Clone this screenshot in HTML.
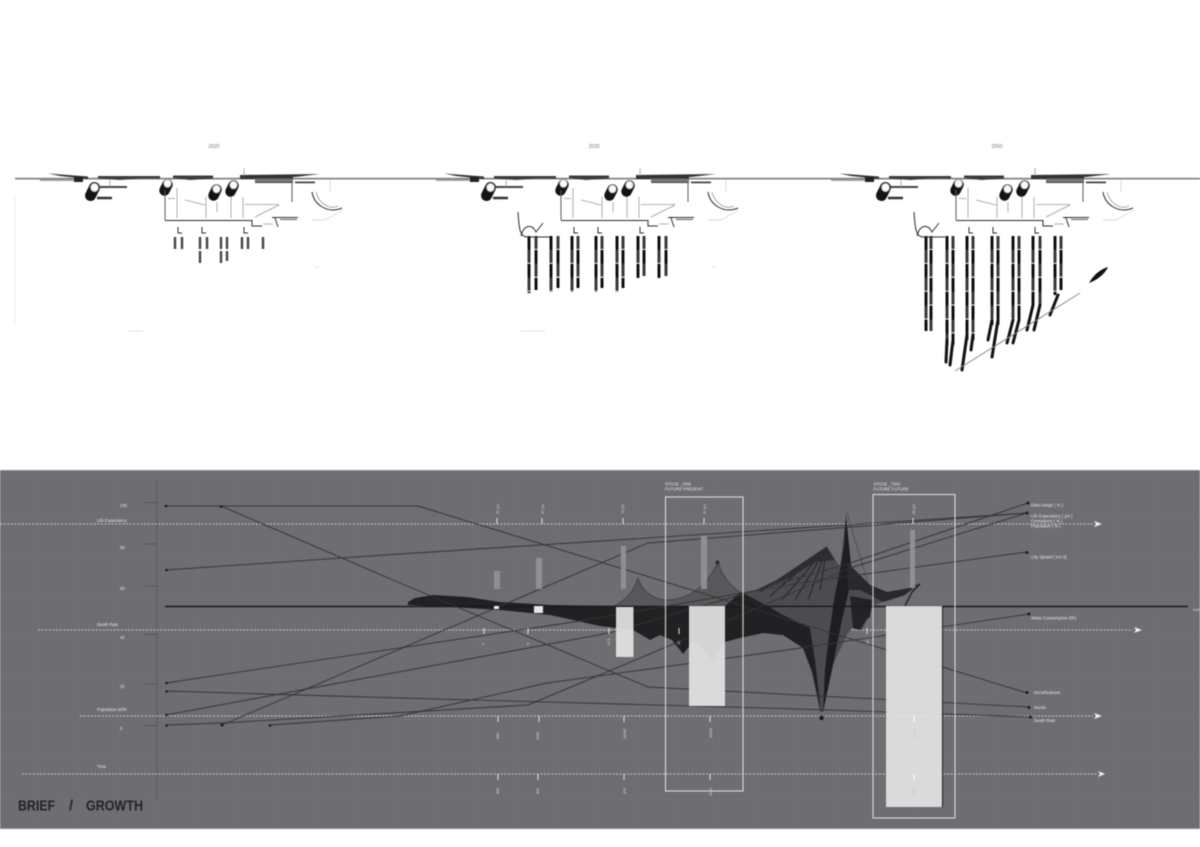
<!DOCTYPE html>
<html><head><meta charset="utf-8"><title>Brief / Growth</title>
<style>
html,body{margin:0;padding:0;background:#fff;overflow:hidden}
svg{display:block;filter:blur(.4px)}
text{font-family:"Liberation Sans",sans-serif}
.l{fill:none;stroke:#343436;stroke-width:.95;stroke-linejoin:round}
.w{fill:#e6e6e6;font-size:4.2px}
.dash{stroke:#c6c6c8;stroke-width:.9;stroke-dasharray:2 1.6;fill:none}
.t{stroke:#e4e4e4;stroke-width:1;fill:none}
.g{fill:#939396}
.b{fill:#e2e2e2;opacity:.93}
.c{stroke:#3a3a3a;stroke-width:3;stroke-dasharray:13 .9;fill:none}
.cl{stroke:#0a0a0a;stroke-width:2.600;stroke-dasharray:14 14;fill:none}
.cr{stroke:#0a0a0a;stroke-width:2.600;stroke-dasharray:14 14;stroke-dashoffset:14;fill:none}
.e{stroke:#111;fill:none;stroke-linecap:round}
.m{stroke:#5c5c5c;fill:none;stroke-width:1}
.k{stroke:#2b2b2b;fill:none;stroke-width:1}
.f{stroke:#999;fill:none;stroke-width:.8}
</style></head><body>
<svg width="1200" height="847" viewBox="0 0 1200 847" xmlns="http://www.w3.org/2000/svg">
<defs>
<pattern id="grid" width="40" height="40" patternUnits="userSpaceOnUse"><path d="M40 0V40H0" fill="none" stroke="#78787c" stroke-width=".4"/></pattern>
<pattern id="mesh" width="2" height="2" patternUnits="userSpaceOnUse"><rect width="2" height="2" fill="#565659"/><path d="M0 1H2" stroke="#3c3c3f" stroke-width=".7"/></pattern>
<g id="mod">
<path d="M48 173.500L88 176.500V179L60 176Z" fill="#333"/>
<rect x="74" y="177" width="9" height="5" fill="#222"/>
<rect x="40" y="179.300" width="34" height="1.600" fill="#999"/>
<path d="M98 176H160V178.500H140L120 180L98 178.500Z" fill="#3c3c3c"/>
<path d="M173 175.500H213V178.500L190 180L173 178Z" fill="#3c3c3c"/>
<path d="M240 175L320 174L295 177H293V183H255V179H240Z" fill="#333"/>
<rect x="255" y="178.600" width="38" height="3.600" fill="#777"/>
<rect x="295" y="181.600" width="20" height="1.600" fill="#333"/>
<path d="M244 168V176" class="f"/>
<path d="M100 187H127" stroke="#444" stroke-width="2" fill="none"/>
<path d="M97 198H112" stroke="#333" stroke-width="2.500" fill="none"/>
<path d="M110 180V187" class="f"/>
<g stroke="#141414" stroke-width="11" stroke-linecap="round" fill="none">
<path d="M90.500 195.500L94.500 187.500"/>
<path d="M164.500 190.500L167.500 184.500" stroke-width="10.500"/>
<path d="M213.500 195.500L216.500 189.500" stroke-width="10.500"/>
<path d="M230.500 191.500L233.500 185.500" stroke-width="10.500"/>
</g>
<g fill="#fafafa" stroke="#aaa" stroke-width=".8">
<ellipse cx="94.500" cy="187.500" rx="4" ry="4.200"/>
<ellipse cx="167.500" cy="183.500" rx="3.800" ry="4"/>
<ellipse cx="216.500" cy="189" rx="3.800" ry="4"/>
<ellipse cx="233.500" cy="185" rx="3.800" ry="4"/>
</g>
<path d="M165 190V220" class="m"/>
<path d="M165 220.500H252V226H262" class="k" stroke-width="1.200"/>
<path d="M177 188V218M206 197V218M231 197V218M243 197V218M217 202V212" class="f" stroke-width="1"/>
<path d="M245 204.500H279M255 217L279 205M185 200L205 205M168 198.500H175M263 224H273" class="f"/>
<path d="M272 217.500H298" class="k"/>
<path d="M280 219.500H297" class="m"/>
<path d="M275 218L278 227" class="k"/>
<path d="M292 182V202" class="m"/>
<path d="M330 180V192M312 220H325L343 210" stroke="#ccc" stroke-width=".7" fill="none"/>
<path d="M312 192C314 205 328 214 342 208" class="k"/>
<path d="M316 192C319 204 330 210 338 206" class="f"/>
<path d="M178 227V233H182M202 227V233H206M244 227V233H248" class="k"/>
</g>
</defs>

<!-- top drawings -->
<rect x="15" y="177.800" width="1185" height="1.700" fill="#808080"/>
<use href="#mod"/>
<use href="#mod" x="396"/>
<use href="#mod" x="791"/>
<text x="214" y="148" font-size="5" fill="#777" text-anchor="middle">2020</text>
<text x="594" y="148" font-size="5" fill="#777" text-anchor="middle">2030</text>
<text x="997" y="148" font-size="5" fill="#777" text-anchor="middle">2050</text>

<path d="M15 197V325" stroke="#eee" fill="none"/>
<path d="M128 331H143M520 331H545M315 267H319M712 267H716" stroke="#ddd" fill="none"/>

<!-- 2020 columns -->
<path d="M175 237V249M182 237V249M200 237V249M207 237V249M221 237V249M227 237V249M242 237V249M248 237V249M263 237V249M200 251V263M221 251V263M227 251V261" stroke="#444" stroke-width="2.400" fill="none"/>

<!-- 2030 columns -->
<path class="c" d="M529 236V293M536 236V290M551 236V292M558 236V288M572 236V292M578 236V288M596 236V292M602 236V288M617 236V292M623 236V288M638 236V278M644 236V276M659 236V278M666 236V276"/>
<path class="cl" d="M529 236V293M551 236V292M572 236V292M596 236V292M617 236V292M638 236V278M659 236V278"/>
<path class="cr" d="M536 236V290M558 236V288M578 236V288M602 236V288M623 236V288M644 236V276M666 236V276"/>
<path d="M518 212C519 225 519 237 527 237H550M521 236C524 224 532 224 536 232L543 223" class="k"/>

<!-- 2050 columns -->
<path class="c" d="M926 236V331M931 236V331M947 236V345M953 236V345M967 236V340M973 236V340M992 236V325M998 236V325M1013 236V320M1019 236V320M1033 236V305M1040 236V305M1055 236V295M1061 236V290"/>
<path class="cl" d="M926 236V331M947 236V345M967 236V340M992 236V325M1013 236V320M1033 236V305M1055 236V295"/>
<path class="cr" d="M931 236V331M953 236V345M973 236V340M998 236V325M1019 236V320M1040 236V305M1061 236V290"/>
<path class="e" stroke-width="3" d="M947 340L946 362M953 340L950 365M967 335L962 370M973 335L971 350M992 320L988 340M998 320L992 357M1013 320L1007 343M1019 320L1013 343M1033 305L1027 330M1040 305L1034 330M1058 295L1050 315"/>
<path d="M914 212C915 225 915 237 923 237H945M917 236C920 224 928 224 932 232L939 223" class="k"/>
<path d="M955 371L1080 293" stroke="#888" stroke-width="1" fill="none"/>
<path d="M1089 283C1094 274 1101 269 1108 267C1105 274 1097 280 1089 283Z" fill="#111"/>

<!-- panel -->
<rect x="0" y="470" width="1200" height="359" fill="#6e6e72"/>
<rect x="0" y="470" width="1200" height="359" fill="url(#grid)"/>
<path d="M0 470.500H1200M0 828.500H1200" stroke="#8a8a8d" fill="none"/>

<!-- axis -->
<path d="M157 480V800" stroke="#3c3c3e" stroke-width=".6" stroke-dasharray="1.500 1" fill="none"/>
<path d="M145 502.500H157M145 544H157M145 586H157M145 634.500H157M145 684H157M145 725.500H157" stroke="#3c3c3e" stroke-width=".7" stroke-dasharray="1.500 .8" fill="none"/>
<g class="w">
<text x="120" y="507">100</text><text x="120" y="549">80</text><text x="120" y="590">60</text><text x="120" y="639">40</text><text x="120" y="688">20</text><text x="120" y="730">0</text>
<text x="97" y="522">Life Expectancy</text>
<text x="97" y="626">Death Rate</text>
<text x="97" y="711">Population M/IR</text>
<text x="97" y="768">Time</text>
</g>

<!-- dashed rows -->
<path class="dash" d="M0 524H1093M38 630H1133M80 716H1093M22 774H1098"/>
<path d="M1094 521L1102 524L1094 527L1096 524Z M1134 627L1142 630L1134 633L1136 630Z M1094 713L1102 716L1094 719L1096 716Z M1098 771L1105 774L1098 777L1100 774Z" fill="#f2f2f2"/>

<!-- tents -->
<path d="M612 607Q632 598 638 578Q645 598 665 600Q700 600 718 562Q725 585 745 595L745 610H612Z" fill="#58585b" stroke="#3a3a3c" stroke-width=".7"/>
<!-- big mesh -->
<path d="M740 595L750 593L783 577L827 547L840 567L846 515L847 562L870 585L887 592L910 588L920 583L905 595L883 602L873 606L868 618L862 630L852 628L847 635L833 665L823 712L820 712L812 672L803 648L783 635L763 633L740 638Z" fill="url(#mesh)"/>
<!-- fan ridges -->
<path d="M827 547L760 592M827 547L770 596M827 547L782 600M827 547L795 600M827 547L808 600M827 547L820 590" stroke="#2c2c2e" stroke-width="1.300" fill="none"/>
<!-- band -->
<path d="M408 602L415 598L433 595L467 597L500 602L550 605L617 606H725L741 592L760 602L783 615L810 628L815 660L821 712L812 672L803 648L783 635L763 633L740 638L725 642L712 660L700 645L693 642L683 654L672 640L660 635L650 640L633 630L600 626L550 615L500 610L450 607L408 605Z" fill="#212123"/>
<!-- ridges & strips -->
<path d="M750 593L783 577L827 547L835 560L815 562L790 578Z" fill="#2e2e30"/>
<path d="M846 515L848 535L851 565L849 590L842 620L833 665L823 712L825 670L829 635L834 600L840 570L844 545Z" fill="#1e1e20"/>
<path d="M847 562L870 585L887 592L910 588L920 583L905 595L883 602L872 596L860 590L848 590Z" fill="#29292b"/>
<path d="M850 596L872 600L870 617L866 620L860 630L853 628Z" fill="#232325"/>
<path d="M912 592L920 584M905 606L912 592" stroke="#1a1a1a" stroke-width="1.300" fill="none"/>
<path d="M847 513L868 583" stroke="#333" stroke-width=".7" stroke-dasharray="2 1" fill="none"/>
<circle cx="821.500" cy="718" r="2.300" fill="#1a1a1a" stroke="#555" stroke-width=".6"/>
<circle cx="717.500" cy="562.500" r="2" fill="#2a2a2c"/>

<!-- main line -->
<path d="M165 606.500H1188" stroke="#1b1b1d" stroke-width="1.500" fill="none"/>
<text x="1193" y="611" font-size="4" fill="#ddd">Indi</text>

<!-- data lines -->
<path class="l" d="M166 506H418L1027 693"/>
<path class="l" d="M221 506L400 583L648 687L800 695L1029 707"/>
<path class="l" d="M166 570L400 554L617 540L800 528L1027 513"/>
<path class="l" d="M222 725L648 543L800 531L1027 513"/>
<path class="l" d="M166 683L580 621L800 583L1027 552"/>
<path class="l" d="M166 715L609 633L850 563L1028 503"/>
<path class="l" d="M166 725L222 723L528 705L683 640L850 568L1027 513"/>
<path class="l" d="M270 725L400 716L547 683L787 650L1029 614"/>
<path class="l" d="M166 691L400 698L800 709L1030 717"/>
<g fill="#1c1c1e">
<circle cx="166" cy="506" r="1.300"/><circle cx="221" cy="506.500" r="1.300"/><circle cx="166.500" cy="570" r="1.300"/><circle cx="166.500" cy="683" r="1.300"/><circle cx="166.500" cy="691.500" r="1.300"/><circle cx="166.500" cy="715" r="1.300"/><circle cx="166.500" cy="725.500" r="1.300"/><circle cx="222" cy="725" r="1.500"/><circle cx="270" cy="725.500" r="1.300"/>
<circle cx="1028" cy="503" r="1.500"/><circle cx="1027" cy="513" r="1.500"/><circle cx="1027" cy="552.500" r="1.500"/><circle cx="1029" cy="614" r="1.500"/><circle cx="1027" cy="692.500" r="1.500"/><circle cx="1029" cy="707.500" r="1.500"/><circle cx="1030.500" cy="717" r="1.500"/>
</g>

<!-- bars -->
<g class="g" opacity=".92">
<rect x="494" y="571" width="6" height="18"/><rect x="536" y="558" width="6" height="31"/><rect x="621" y="546" width="5" height="43"/><rect x="701" y="536" width="6" height="53"/><rect x="910" y="530" width="5" height="58"/>
</g>
<rect x="494" y="606" width="5" height="3" fill="#eee"/>
<rect x="534" y="606" width="9" height="7" fill="#e6e6e6"/>
<rect class="b" x="616" y="607" width="17.500" height="50"/>
<rect class="b" x="689" y="606" width="36" height="100"/>
<rect class="b" x="886" y="606" width="56" height="201"/>
<path d="M942.500 606V807" stroke="#1d1d1f" stroke-width="1" fill="none"/>

<!-- stage frames -->
<rect x="665.500" y="497" width="77.500" height="294" fill="none" stroke="#dadada" stroke-width="1.100"/>
<rect x="873" y="494.500" width="82" height="323.500" fill="none" stroke="#dadada" stroke-width="1.100"/>
<g class="w">
<text x="665" y="485.500">STAGE _ONE</text><text x="665" y="490.500">FUTURE PRESENT</text>
<text x="873.500" y="485.500">STAGE _TWO</text><text x="873.500" y="490.500">FUTURE FUTURE</text>
<text x="1031" y="506.500">Data Usage ( % )</text>
<text x="1031" y="517.500">Life Expectancy ( yrs )</text>
<text x="1031" y="522.500">Cremations ( % )</text>
<text x="1031" y="527.500">Population ( % )</text>
<text x="1031" y="558.500">City Sprawl ( Km k)</text>
<text x="1031" y="619.500">Water Consumption (l/h)</text>
<text x="1034" y="694">Densifications</text>
<text x="1034" y="709">Nursls</text>
<text x="1034" y="722">Death Rate</text>
</g>

<!-- ticks -->
<path class="t" d="M497 518V524M542 518V524M623 518V524M704 518V524M913 518V524M484 628V634M528 628V634M609 628V634M679 628V634M867 628V634M498 716V722M539 716V722M624 716V722M710 716V722M498 774V780M538 774V780M624 774V780M710 774V780"/>
<path d="M914 716V722M914 774V780" stroke="#fff" fill="none"/>
<g font-size="3.600" fill="#d8d8d8" text-anchor="middle">
<text transform="translate(499 509) rotate(-90)">67 yrs</text>
<text transform="translate(544 509) rotate(-90)">67 yrs</text>
<text transform="translate(624 509) rotate(-90)">70 yrs</text>
<text transform="translate(706 509) rotate(-90)">67 yrs</text>
<text transform="translate(915 509) rotate(-90)">80 yrs</text>
<text x="483" y="645">9</text><text x="528" y="645">8</text>
<text transform="translate(610 642) rotate(-90)">12.5</text>
<text transform="translate(680 643) rotate(-90)">15</text>
<text transform="translate(869 642) rotate(-90)">20</text>
<text transform="translate(499 736) rotate(-90)">900</text>
<text transform="translate(539 736) rotate(-90)">2000</text>
<text transform="translate(626 734) rotate(-90)">10000</text>
<text transform="translate(712 733) rotate(-90)">30000</text>
<text transform="translate(916 733) rotate(-90)" fill="#c8c8c8">50000</text>
<text transform="translate(499 791) rotate(-90)">900</text>
<text transform="translate(539 791) rotate(-90)">901</text>
<text transform="translate(626 791) rotate(-90)">975</text>
<text transform="translate(712 792) rotate(-90)">2010</text>
<text transform="translate(915 791) rotate(-90)" fill="#c8c8c8">2050</text>
</g>

<!-- title -->
<g font-size="14.500" font-weight="bold" fill="#232325">
<text x="18" y="810.500" textLength="37" lengthAdjust="spacingAndGlyphs">BRIEF</text>
<text x="69" y="810.500">/</text>
<text x="86" y="810.500" textLength="57" lengthAdjust="spacingAndGlyphs">GROWTH</text>
</g>
</svg>
</body></html>
